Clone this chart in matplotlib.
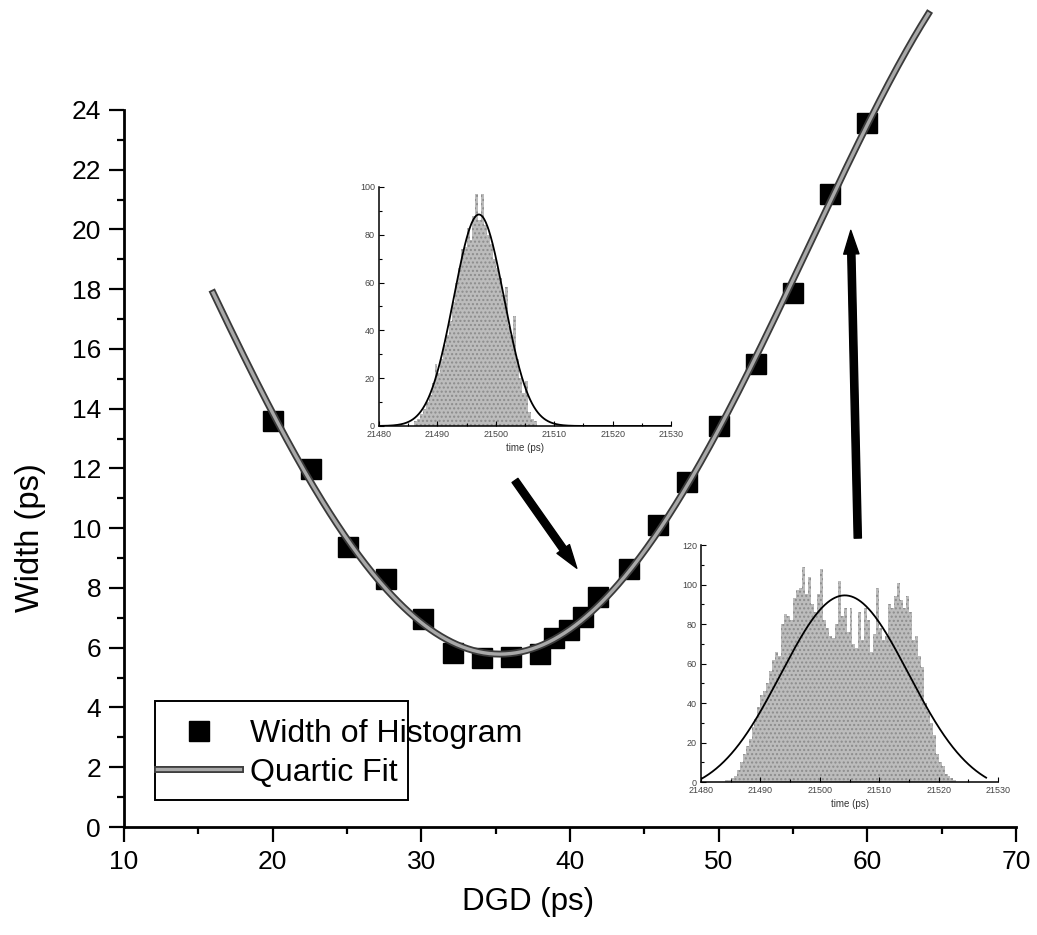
import numpy as np
import matplotlib
matplotlib.use("Agg")
import matplotlib.pyplot as plt
import matplotlib.patheffects as pe
from matplotlib.lines import Line2D
from matplotlib.patches import Rectangle
from matplotlib.ticker import MultipleLocator, FormatStrFormatter

plt.rcParams["font.family"] = ["Liberation Sans", "DejaVu Sans"]

# Histogram width versus differential group delay
dgd_ps = [20.0, 22.6, 25.1, 27.6, 30.1, 32.1, 34.1, 36.0, 38.0, 38.9, 39.9,
          40.9, 41.9, 44.0, 45.9, 47.9, 50.0, 52.5, 55.0, 57.5, 60.0]
width_ps = [13.58, 11.97, 9.36, 8.29, 6.96, 5.82, 5.65, 5.69, 5.79, 6.32, 6.59,
            7.02, 7.69, 8.63, 10.10, 11.54, 13.41, 15.49, 17.86, 21.20, 23.55]
fit_range = (16.0, 64.1)

# Arrival-time histogram at low DGD (0.5 ps bins)
hist1_t = np.arange(21486.0, 21507.0, 0.5)
hist1_counts = [2, 3, 5, 7, 10, 13, 18, 26, 22, 28, 34, 38, 44, 52, 60, 66, 74, 75,
                83, 78, 88, 97, 86, 97, 84, 80, 76, 70, 66, 62, 55, 58, 42, 38, 46,
                28, 20, 14, 19, 6, 3, 2]
gauss1 = dict(amp=88.5, center=21497.1, sigma=4.3, offset=0.0)

# Arrival-time histogram at high DGD (0.5 ps bins)
hist2_t = np.arange(21484.0, 21523.0, 0.5)
hist2_counts = [1, 1, 2, 3, 6, 10, 14, 18, 22, 28, 32, 38, 44, 46, 50, 56, 62, 66,
                64, 80, 85, 84, 82, 93, 97, 98, 109, 95, 104, 90, 86, 95, 108, 82,
                78, 74, 73, 80, 102, 84, 88, 76, 88, 70, 68, 86, 72, 88, 82, 66, 75,
                98, 78, 72, 74, 90, 88, 94, 101, 92, 88, 94, 86, 72, 74, 64, 58, 40,
                36, 30, 24, 14, 10, 8, 4, 3, 2, 1]
gauss2 = dict(amp=101.0, center=21504.2, sigma=10.75, offset=-6.5)

fig = plt.figure(figsize=(10.37, 9.35), dpi=100)
ax = fig.add_axes([0.1196, 0.1155, 0.8601, 0.7669])

# Quartic fit through the measured widths
coef = np.polyfit(dgd_ps, width_ps, 4)
xf = np.linspace(fit_range[0], fit_range[1], 400)
yf = np.polyval(coef, xf)
fit_effects = [pe.Stroke(linewidth=5.0, foreground="#3a3a3a"),
               pe.Normal()]
ax.plot(xf, yf, color="#a8a8a8", lw=2.4, clip_on=False, zorder=3,
        path_effects=fit_effects)
ax.plot(dgd_ps, width_ps, ls="none", marker="s", ms=14.5, color="black",
        zorder=2, clip_on=False)

ax.set_xlim(10, 70)
ax.set_ylim(0, 24)
for s in ("top", "right"):
    ax.spines[s].set_visible(False)
for s in ("left", "bottom"):
    ax.spines[s].set_linewidth(2.0)
ax.xaxis.set_major_locator(MultipleLocator(10))
ax.xaxis.set_minor_locator(MultipleLocator(5))
ax.yaxis.set_major_locator(MultipleLocator(2))
ax.yaxis.set_minor_locator(MultipleLocator(1))
ax.tick_params(which="major", direction="out", length=10.5, width=1.6,
               labelsize=19, pad=6)
ax.tick_params(which="minor", direction="out", length=5, width=1.6)
ax.set_xlabel("DGD (ps)", fontsize=22.5)
ax.xaxis.set_label_coords(0.453, -0.083)
ax.set_ylabel("Width (ps)", fontsize=23.5)
ax.yaxis.set_label_coords(-0.088, 0.404)

# Legend entries with a separately drawn frame
handles = [Line2D([], [], ls="none", marker="s", ms=14.5, color="black"),
           Line2D([], [], color="#a8a8a8", lw=2.4,
                  path_effects=[pe.Stroke(linewidth=5.0, foreground="#3a3a3a"),
                                pe.Normal()])]
leg = ax.legend(handles, ["Width of Histogram", "Quartic Fit"],
                loc="upper left", bbox_to_anchor=(0.037, 0.151),
                frameon=False, fontsize=23, borderpad=0, borderaxespad=0,
                handlelength=2.6, handletextpad=0.31, labelspacing=0.28)
ax.add_patch(Rectangle((0.035, 0.038), 0.283, 0.138, transform=ax.transAxes,
                       fill=False, ec="black", lw=1.4, zorder=1, clip_on=False))

# Arrows linking the histograms to their points
arrow_style = "simple,head_length=0.85,head_width=0.55,tail_width=0.26"
ax.annotate("", xy=(40.46, 8.66), xytext=(36.3, 11.6),
            arrowprops=dict(arrowstyle=arrow_style, mutation_scale=20,
                            color="black", shrinkA=0, shrinkB=0))
ax.annotate("", xy=(58.89, 19.97), xytext=(59.36, 9.67),
            arrowprops=dict(arrowstyle=arrow_style, mutation_scale=20,
                            color="black", shrinkA=0, shrinkB=0))


def draw_hist(rect, t, counts, g, ymax, ystep, curve_end):
    ins = fig.add_axes(rect)
    ins.bar(t, counts, width=0.5, align="edge", color="#bcbcbc",
            edgecolor="#8c8c8c", hatch="....", lw=0, zorder=1)
    tt = np.linspace(21480, curve_end, 600)
    yy = g["offset"] + g["amp"] * np.exp(-(tt - g["center"]) ** 2 / (2 * g["sigma"] ** 2))
    ins.plot(tt, np.clip(yy, 0, None), color="black", lw=1.3, zorder=2)
    ins.set_xlim(21480, 21530)
    ins.set_ylim(0, ymax)
    ins.patch.set_alpha(0)
    for s in ("top", "right"):
        ins.spines[s].set_visible(False)
    for s in ("left", "bottom"):
        ins.spines[s].set_linewidth(1.1)
    ins.xaxis.set_major_locator(MultipleLocator(10))
    ins.xaxis.set_minor_locator(MultipleLocator(5))
    ins.yaxis.set_major_locator(MultipleLocator(ystep))
    ins.yaxis.set_minor_locator(MultipleLocator(ystep / 2))
    ins.xaxis.set_major_formatter(FormatStrFormatter("%d"))
    ins.tick_params(which="major", direction="in", length=3.5, width=0.8,
                    labelsize=6.5, labelcolor="#444444", pad=3)
    ins.tick_params(which="minor", direction="in", length=2, width=0.8)
    ins.set_xlabel("time (ps)", fontsize=7, color="#333333", labelpad=3)
    return ins


draw_hist([0.3655, 0.5444, 0.2816, 0.2556], hist1_t, hist1_counts, gauss1,
          100, 20, 21530)
draw_hist([0.676, 0.1636, 0.2864, 0.2535], hist2_t, hist2_counts, gauss2,
          120, 20, 21528)

fig.savefig("out.png", dpi=100)
